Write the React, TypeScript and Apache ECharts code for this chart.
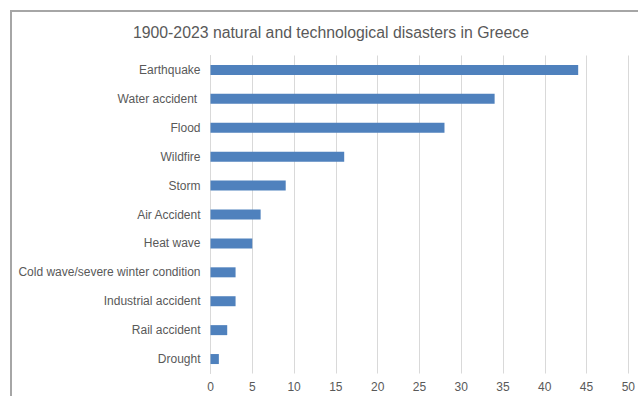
import React, { useEffect, useRef } from "react";
import * as echarts from "echarts";

const categories: string[] = [
  "Earthquake",
  "Water accident ",
  "Flood",
  "Wildfire",
  "Storm",
  "Air Accident",
  "Heat wave",
  "Cold wave/severe winter condition",
  "Industrial accident",
  "Rail accident",
  "Drought",
];

const counts: number[] = [44, 34, 28, 16, 9, 6, 5, 3, 3, 2, 1];

const titleText = "1900-2023 natural and technological disasters in Greece";

const axisMin = 0;
const axisMax = 50;
const axisStep = 5;

const FONT = "'Liberation Sans', Arial, sans-serif";
const TEXT_COLOR = "#595959";

export default function App() {
  const ref = useRef<HTMLDivElement | null>(null);

  useEffect(() => {
    document.body.style.margin = "0";
    if (!ref.current) return;
    const chart = echarts.init(ref.current, undefined, { renderer: "svg" });
    chart.setOption({
      animation: false,
      backgroundColor: "#ffffff",
      textStyle: { fontFamily: FONT },
      graphic: [
        {
          type: "rect",
          shape: { x: 11, y: 11, width: 660, height: 420 },
          style: { fill: "none", stroke: "#a6a6a6", lineWidth: 2 },
          silent: true,
        },
      ],
      title: {
        text: titleText,
        left: 326,
        top: 19,
        textAlign: "center",
        textStyle: {
          fontFamily: FONT,
          fontSize: 15.8,
          fontWeight: "normal",
          color: TEXT_COLOR,
        },
      },
      grid: {
        left: 210.5,
        right: 8.5,
        top: 55.5,
        bottom: 22.5,
        containLabel: false,
      },
      xAxis: {
        type: "value",
        min: axisMin,
        max: axisMax,
        interval: axisStep,
        axisLine: { show: false },
        axisTick: { show: false },
        splitLine: { show: true, lineStyle: { color: "#d9d9d9", width: 1 } },
        axisLabel: {
          color: TEXT_COLOR,
          fontSize: 12,
          fontFamily: FONT,
          margin: 7,
        },
      },
      yAxis: {
        type: "category",
        data: categories,
        inverse: true,
        axisLine: { show: true, lineStyle: { color: "#d9d9d9", width: 1 } },
        axisTick: { show: false },
        axisLabel: {
          color: TEXT_COLOR,
          fontSize: 12,
          fontFamily: FONT,
          margin: 10,
        },
      },
      series: [
        {
          type: "bar",
          data: counts,
          barWidth: 10,
          itemStyle: { color: "#4f81bd" },
        },
      ],
    });
    return () => chart.dispose();
  }, []);

  return <div ref={ref} style={{ width: 638, height: 396 }} />;
}
